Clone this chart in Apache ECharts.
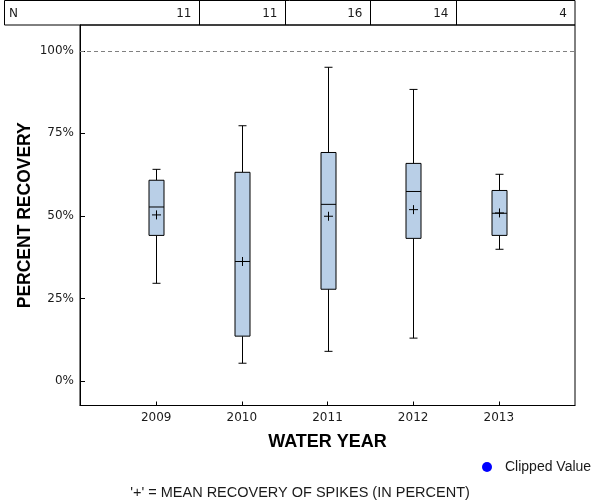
<!DOCTYPE html>
<html><head><meta charset="utf-8">
<script src="https://cdn.jsdelivr.net/npm/echarts@6/dist/echarts.min.js"></script>
<style>html,body{margin:0;padding:0;background:#fff}#c{width:600px;height:500px}</style>
</head><body><div id="c"></div>
<script>
// ---- data ----
const years = [2009, 2010, 2011, 2012, 2013];
const counts = [11, 11, 16, 14, 4];
const whiskerLow = [29.6, 5.4, 9.0, 13.0, 39.9];
const q1 = [44.1, 13.6, 27.8, 43.2, 44.1];
const median = [52.7, 36.2, 53.5, 57.4, 50.8];
const q3 = [60.8, 63.2, 69.2, 65.9, 57.7];
const whiskerHigh = [64.1, 77.3, 95.0, 88.3, 62.6];
const mean = [50.3, 36.2, 49.9, 51.9, 50.9];
const yTicks = [0, 25, 50, 75, 100];
const refLine = 100;
const xMin = 2008.11, xMax = 2013.89;
const yMin = -7.4, yMax = 107.8;

const FONT = '"DejaVu Sans", sans-serif';
const AFONT = '"Liberation Sans", Arial, sans-serif';
const TXT = '#1a1a1a';

const boxData = years.map((y, i) => [y, whiskerLow[i], q1[i], median[i], q3[i], whiskerHigh[i], mean[i]]);

function renderItem(params, api) {
  const x = api.value(0);
  const p = i => api.coord([x, api.value(i)]);
  const lo = p(1), b = p(2), m = p(3), t = p(4), hi = p(5), mn = p(6);
  const cx = Math.round(lo[0]) + 0.5;
  const hw = 7.5, cw = 4, pw = 4.5;
  const ln = (x1, y1, x2, y2) => ({ type: 'line', shape: { x1, y1, x2, y2 }, style: { stroke: '#000', lineWidth: 1 } });
  return {
    type: 'group', children: [
      ln(cx, hi[1], cx, t[1]),
      ln(cx, b[1], cx, lo[1]),
      ln(cx - cw, hi[1], cx + cw, hi[1]),
      ln(cx - cw, lo[1], cx + cw, lo[1]),
      { type: 'rect', shape: { x: cx - hw, y: t[1], width: 2 * hw, height: b[1] - t[1] }, style: { fill: '#b9cfe7', stroke: '#000', lineWidth: 1 } },
      ln(cx - hw, m[1], cx + hw, m[1]),
      ln(cx - pw, mn[1], cx + pw, mn[1]),
      ln(cx, mn[1] - pw, cx, mn[1] + pw)
    ]
  };
}

const chart = echarts.init(document.getElementById('c'), null, { renderer: 'canvas' });
chart.setOption({
  animation: false,
  backgroundColor: '#fff',
  textStyle: { fontFamily: FONT },
  grid: { left: 80, right: 25, top: 25, bottom: 94.5, show: true, borderColor: '#000', borderWidth: 1, containLabel: false },
  xAxis: {
    type: 'value', min: xMin, max: xMax,
    axisLine: { show: true, onZero: false, lineStyle: { color: '#000', width: 1 } },
    axisTick: { show: true, inside: true, length: 4, customValues: years, lineStyle: { color: '#000' } },
    axisLabel: { customValues: years, formatter: v => String(Math.round(v)), color: TXT, fontSize: 12, fontFamily: FONT, margin: 6 },
    splitLine: { show: false },
    name: 'WATER YEAR', nameLocation: 'middle', nameGap: 28,
    nameTextStyle: { fontSize: 18, fontWeight: 'bold', color: '#000', fontFamily: AFONT }
  },
  yAxis: {
    type: 'value', min: yMin, max: yMax,
    axisLine: { show: true, onZero: false, lineStyle: { color: '#000', width: 1 } },
    axisTick: { show: true, inside: true, length: 5, customValues: yTicks, lineStyle: { color: '#000' } },
    axisLabel: { customValues: yTicks, formatter: v => Math.round(v) + '%', color: TXT, fontSize: 12, fontFamily: FONT, margin: 6 },
    splitLine: { show: false },
    name: 'PERCENT RECOVERY', nameLocation: 'middle', nameGap: 46, nameMoveOverlap: false,
    nameTextStyle: { fontSize: 17.5, fontWeight: 'bold', color: '#000', fontFamily: AFONT }
  },
  legend: {
    data: [{ name: 'Clipped Value', icon: 'circle', itemStyle: { color: '#0000ff', opacity: 1 } }],
    left: 482, top: 460, padding: 0, itemWidth: 10, itemHeight: 10,
    textStyle: { fontSize: 14, color: TXT, fontFamily: AFONT, padding: [0, 0, 0, 8] },
    selectedMode: false
  },
  title: {
    text: "'+' = MEAN RECOVERY OF SPIKES (IN PERCENT)",
    left: 'center', top: 485,
    padding: 0,
    textStyle: { fontSize: 14.5, fontWeight: 'normal', color: TXT, fontFamily: AFONT }
  },
  series: [
    {
      type: 'custom', name: 'box', renderItem: renderItem, data: boxData,
      encode: { x: 0, y: [1, 2, 3, 4, 5, 6] },
      markLine: {
        silent: true, symbol: 'none', label: { show: false },
        lineStyle: { type: [4, 3], color: '#808080', width: 1 },
        data: [{ yAxis: refLine }]
      }
    },
    { type: 'scatter', name: 'Clipped Value', data: [], itemStyle: { color: '#0000ff', opacity: 1 } }
  ]
});

// ---- N table on top, positioned through the x axis scale ----
const px = v => chart.convertToPixel({ xAxisIndex: 0 }, v);
const rightEdge = px(xMax);
const leftEdge = 4.5;
const g = [];
g.push({ type: 'rect', shape: { x: leftEdge, y: 0.5, width: rightEdge - leftEdge, height: 24.5 }, style: { fill: 'none', stroke: '#000', lineWidth: 1 } });
g.push({ type: 'text', x: 9, y: 14, style: { text: 'N', fontSize: 12, fontFamily: FONT, fill: TXT, verticalAlign: 'middle', align: 'left' } });
years.forEach((yr, i) => {
  const right = i < years.length - 1 ? Math.round(px(yr + 0.5)) + 0.5 : rightEdge;
  if (i < years.length - 1) {
    g.push({ type: 'line', shape: { x1: right, y1: 0.5, x2: right, y2: 25 }, style: { stroke: '#000', lineWidth: 1 } });
  }
  g.push({ type: 'text', x: right - 8, y: 14, style: { text: String(counts[i]), fontSize: 12, fontFamily: FONT, fill: TXT, verticalAlign: 'middle', align: 'right' } });
});
chart.setOption({ graphic: g });
</script>
</body></html>
